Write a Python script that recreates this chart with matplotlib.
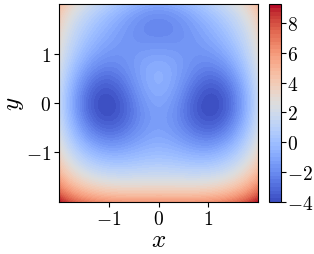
import numpy as np
import matplotlib
matplotlib.use("Agg")
import matplotlib.pyplot as plt
from matplotlib.ticker import FuncFormatter

plt.rcParams['mathtext.fontset'] = 'cm'
plt.rcParams['font.family'] = 'serif'

# Three-well potential parameters (Gaussian wells + quartic confinement)
amps = [3.0, -3.0, -5.0, -5.0]
cx = [0.0, 0.0, 1.0, -1.0]
cy = [1/3, 5/3, 0.0, 0.0]
quartic = 0.2
quartic_y_shift = 1/3

x_range = [-2.0, 2.0]
y_range = [-2.0, 2.0]
n_grid = 200
n_levels = 60
x_ticks = [-1, 0, 1]
y_ticks = [-1, 0, 1]
cbar_ticks = [-4, -2, 0, 2, 4, 6, 8]

xs = np.linspace(x_range[0], x_range[1], n_grid)
ys = np.linspace(y_range[0], y_range[1], n_grid)
X, Y = np.meshgrid(xs, ys)
Z = np.zeros_like(X)
for a, mx, my in zip(amps, cx, cy):
    Z += a * np.exp(-(X - mx) ** 2 - (Y - my) ** 2)
Z += quartic * X ** 4 + quartic * (Y - quartic_y_shift) ** 4

fig = plt.figure(figsize=(3.14, 2.55), dpi=100)
ax = fig.add_axes([0.189, 0.205, 0.632, 0.774])
cax = fig.add_axes([0.858, 0.205, 0.036, 0.774])

cf = ax.contourf(X, Y, Z, levels=n_levels, cmap='coolwarm')
ax.set_xlim(x_range)
ax.set_ylim(y_range)
ax.set_xticks(x_ticks)
ax.set_yticks(y_ticks)
fmt = FuncFormatter(lambda v, p: r'$%g$' % v)
ax.xaxis.set_major_formatter(fmt)
ax.yaxis.set_major_formatter(fmt)
ax.tick_params(labelsize=14, pad=2.5)
ax.set_xlabel(r'$x$', fontsize=18, labelpad=0)
ax.set_ylabel(r'$y$', fontsize=18, labelpad=0)

cb = fig.colorbar(cf, cax=cax, ticks=cbar_ticks)
cb.ax.yaxis.set_major_formatter(fmt)
cb.ax.tick_params(labelsize=14, pad=1)

fig.savefig('out.png', dpi=100)
